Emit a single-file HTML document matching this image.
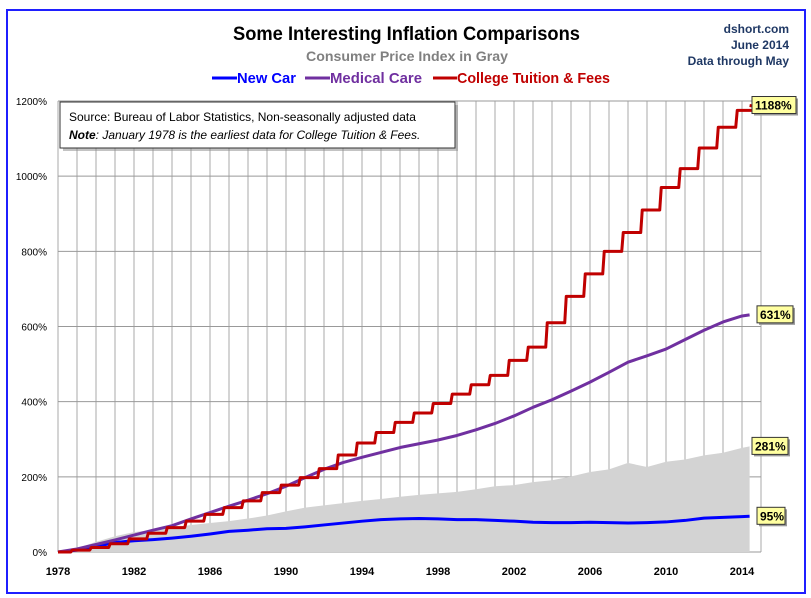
<!DOCTYPE html>
<html><head><meta charset="utf-8"><style>
body{margin:0;background:#fff;font-family:"Liberation Sans",sans-serif}
svg{display:block}
text{font-family:"Liberation Sans",sans-serif}
</style></head><body>
<svg id="c" width="811" height="598" xmlns="http://www.w3.org/2000/svg">
<rect x="7" y="10" width="798" height="583" fill="#fff" stroke="#1f1fff" stroke-width="2"/>
<text x="233" y="40" textLength="347" lengthAdjust="spacingAndGlyphs" font-size="19" font-weight="bold" fill="#000">Some Interesting Inflation Comparisons</text>
<text x="306" y="61" textLength="202" lengthAdjust="spacingAndGlyphs" font-size="14" font-weight="bold" fill="#808080">Consumer Price Index in Gray</text>
<g font-size="12" font-weight="bold" fill="#1f3864" text-anchor="end">
<text x="789" y="33">dshort.com</text><text x="789" y="49">June 2014</text><text x="789" y="65">Data through May</text></g>
<g font-size="15" font-weight="bold">
<g><line x1="212" y1="78" x2="237" y2="78" stroke="#0000ff" stroke-width="3"/><text x="237" y="83" textLength="59" lengthAdjust="spacingAndGlyphs" fill="#0000ff">New Car</text></g>
<g><line x1="305" y1="78" x2="330" y2="78" stroke="#7030a0" stroke-width="3"/><text x="330" y="83" textLength="92" lengthAdjust="spacingAndGlyphs" fill="#7030a0">Medical Care</text></g>
<g><line x1="433" y1="78" x2="457" y2="78" stroke="#c00000" stroke-width="3"/><text x="457" y="83" textLength="153" lengthAdjust="spacingAndGlyphs" fill="#c00000">College Tuition &amp; Fees</text></g>
</g>
<g id="plot"></g>
<g>
<rect x="63" y="105" width="395" height="46" fill="#888" opacity="0.5"/>
<rect x="60" y="102" width="395" height="46" fill="#fff" stroke="#333" stroke-width="1"/>
<text x="69" y="121" font-size="12" fill="#000">Source:  Bureau of Labor Statistics, Non-seasonally adjusted data</text>
<text x="69" y="139" font-size="12" font-style="italic" fill="#000"><tspan font-weight="bold">Note</tspan>: January  1978 is the earliest data for College Tuition &amp; Fees.</text>
</g>
</svg>
<script>
const years=[1978,1979,1980,1981,1982,1983,1984,1985,1986,1987,1988,1989,1990,1991,1992,1993,1994,1995,1996,1997,1998,1999,2000,2001,2002,2003,2004,2005,2006,2007,2008,2009,2010,2011,2012,2013,2014];
const cpi=[0,10,27,42,53,59,65,72,77,82,89,97,108,118,124,130,136,141,147,152,156,160,167,175,178,186,191,201,213,220,237,226,240,246,257,264,277];
const newCar=[0,5,15,25,30,33,37,42,48,55,58,62,63,67,72,77,82,86,88,89,88,86,86,84,82,79,78,78,79,78,77,78,80,84,90,92,94];
const medical=[0,8,20,32,45,58,70,88,105,122,138,155,175,198,220,238,252,265,278,288,298,310,325,342,362,385,405,428,452,478,505,522,540,565,590,612,628];
const college=[5,12,22,35,50,65,82,100,118,136,158,178,198,222,258,290,318,345,370,395,420,445,470,510,545,610,680,740,800,850,910,970,1020,1075,1130,1175,1185];
const lastYear=2014.4;
const endVals={cpi:281,newCar:95,medical:631,college:1188};
const yTicks=[0,200,400,600,800,1000,1200];
const xTicks=[1978,1982,1986,1990,1994,1998,2002,2006,2010,2014];
const X=y=>58+(y-1978)*19;
const Y=v=>552-v*(451/1200);
const NS="http://www.w3.org/2000/svg";
const plot=document.getElementById('plot');
function mk(t,a,p){const e=document.createElementNS(NS,t);for(const k in a)e.setAttribute(k,a[k]);(p||plot).appendChild(e);return e;}
for(let yr=1978;yr<=2015;yr++){const l=mk('line',{x1:X(yr),x2:X(yr),y1:Y(1200),y2:Y(0),stroke:'#aaa','stroke-width':1});

}
yTicks.forEach(v=>{const l=mk('line',{x1:X(1978),x2:X(2015),y1:Y(v),y2:Y(v),stroke:'#999','stroke-width':1});


const t=mk('text',{x:47,y:Y(v)+4,'text-anchor':'end','font-size':10,fill:'#000'});t.textContent=v+'%';

});
xTicks.forEach(yr=>{const t=mk('text',{x:X(yr),y:575,'text-anchor':'middle','font-size':11,'font-weight':'bold',fill:'#000'});t.textContent=yr;

});
let d='M'+X(1978)+','+Y(0);
years.forEach((yr,i)=>{d+=' L'+X(yr)+','+Y(cpi[i]);});
d+=' L'+X(lastYear)+','+Y(endVals.cpi)+' L'+X(lastYear)+','+Y(0)+' Z';
const a=mk('path',{d:d,fill:'#d3d3d3',stroke:'none'});


function line(arr,end,color,name){let p='';years.forEach((yr,i)=>{p+=(i?' L':'M')+X(yr)+','+Y(arr[i]);});p+=' L'+X(lastYear)+','+Y(end);
const s=mk('path',{d:p,fill:'none',stroke:color,'stroke-width':3,'stroke-linejoin':'round'});

}
line(newCar,endVals.newCar,'#0000ff','new-car-line');
line(medical,endVals.medical,'#7030a0','medical-care-line');
let p='M'+X(1978)+','+Y(0),prev=0;
years.forEach((yr,i)=>{p+=' L'+X(yr+0.67)+','+Y(prev)+' L'+X(yr+0.75)+','+Y(college[i]);prev=college[i];});
p+=' L'+X(lastYear)+','+Y(endVals.college);
const c=mk('path',{d:p,fill:'none',stroke:'#c00000','stroke-width':3,'stroke-linejoin':'round'});


function label(v,txt,x,name){const y=Y(v);
mk('rect',{x:x+2,y:y-7,width:txt.length*8+4,height:17,fill:'#999'});
const r=mk('rect',{x:x,y:y-9,width:txt.length*8+4,height:17,fill:'#ffffa0',stroke:'#333','stroke-width':1});


const t=mk('text',{x:x+3,y:y+4,'font-size':12,'font-weight':'bold',fill:'#000'});t.textContent=txt;

}
label(endVals.college,endVals.college+'%',752,'college-end-label');
label(endVals.medical,endVals.medical+'%',757,'medical-end-label');
label(endVals.cpi,endVals.cpi+'%',752,'cpi-end-label');
label(endVals.newCar,endVals.newCar+'%',757,'new-car-end-label');
</script>
</body></html>
